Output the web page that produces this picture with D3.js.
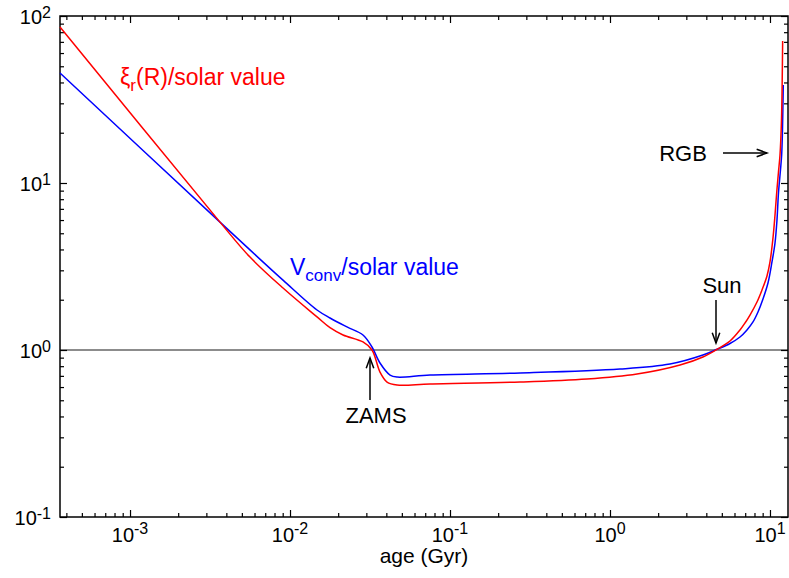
<!DOCTYPE html>
<html><head><meta charset="utf-8">
<script src="https://cdn.jsdelivr.net/npm/d3@7"></script>
<style>body{margin:0;background:#fff}svg{display:block;font-family:"Liberation Sans",Arial,Helvetica,sans-serif}</style>
</head><body><svg id="c" width="789" height="578"></svg>
<script>
// ---- data (age in Gyr) ----
const blueAge = [3.65e-4, 3.65e-3, 9.04e-3, 0.01475, 0.01778, 0.0227, 0.02858, 0.03254, 0.0365, 0.0422, 0.0467, 0.075, 0.274, 1.155, 2.37, 3.81, 4.665, 5.623, 6.494, 7.181, 7.832, 8.414, 9.04, 9.716, 10.29, 10.75, 11.06, 11.30, 11.63, 11.83, 11.97, 12.11];
const blueVal = [45.6, 5.83, 2.62, 1.736, 1.555, 1.374, 1.23, 1.042, 0.836, 0.708, 0.689, 0.708, 0.728, 0.769, 0.824, 0.933, 1.01, 1.094, 1.196, 1.318, 1.472, 1.689, 2.021, 2.519, 3.365, 4.372, 6.003, 8.714, 11.96, 14.71, 20.77, 38.6];
const redAge = [3.65e-4, 3.65e-3, 5.62e-3, 9.04e-3, 0.01475, 0.01778, 0.02145, 0.02858, 0.03254, 0.0365, 0.0404, 0.0467, 0.075, 0.274, 0.718, 1.475, 2.74, 3.81, 4.665, 5.623, 6.494, 6.98, 7.499, 8.295, 8.913, 9.578, 10.0, 10.44, 10.75, 11.01, 11.30, 11.55, 11.80, 12.0];
const redVal = [86, 5.83, 3.6, 2.35, 1.578, 1.36, 1.23, 1.117, 1.0, 0.738, 0.643, 0.617, 0.626, 0.643, 0.67, 0.718, 0.813, 0.908, 1.01, 1.132, 1.318, 1.451, 1.62, 1.939, 2.288, 2.774, 3.365, 4.687, 6.433, 8.714, 11.64, 14.71, 23.84, 70.8];
const xMajor = [1e-3, 1e-2, 1e-1, 1, 10];
const xMajorExp = ["-3", "-2", "-1", "0", "1"];
const yMajor = [0.1, 1, 10, 100];
const yMajorExp = ["-1", "0", "1", "2"];
const xDomain = [3.65e-4, 12.96];
const yDomain = [0.1, 100];

const svg = d3.select("#c");
const L = 60, R = 788, T = 16, B = 517;
const x = d3.scaleLog().domain(xDomain).range([L, R]);
const y = d3.scaleLog().domain(yDomain).range([B, T]);

function minors(dom) {
  const out = [];
  for (let e = Math.floor(Math.log10(dom[0])); e <= Math.ceil(Math.log10(dom[1])); e++)
    for (let m = 2; m <= 9; m++) { const v = m * Math.pow(10, e); if (v >= dom[0] && v <= dom[1]) out.push(v); }
  return out;
}
const xMin = minors(xDomain), yMin = minors(yDomain);

// horizontal reference line at 1
svg.append("line").attr("x1", L).attr("x2", R).attr("y1", y(1)).attr("y2", y(1))
  .attr("stroke", "#666").attr("stroke-width", 1.5);

// axes ticks (inward)
function ax(gen, vals, size, tr) {
  const g = svg.append("g").attr("transform", tr)
    .call(gen.tickValues(vals).tickSizeInner(-size).tickSizeOuter(0).tickFormat(""));
  g.select(".domain").remove();
  g.selectAll("line").attr("stroke", "#000").attr("stroke-width", 1.2);
  return g;
}
ax(d3.axisBottom(x), xMajor, 7, `translate(0,${B})`);
ax(d3.axisBottom(x), xMin, 4, `translate(0,${B})`);
ax(d3.axisTop(x), xMajor, 7, `translate(0,${T})`);
ax(d3.axisTop(x), xMin, 4, `translate(0,${T})`);
ax(d3.axisLeft(y), yMajor, 7, `translate(${L},0)`);
ax(d3.axisLeft(y), yMin, 4, `translate(${L},0)`);
ax(d3.axisRight(y), yMajor, 7, `translate(${R},0)`);
ax(d3.axisRight(y), yMin, 4, `translate(${R},0)`);

// frame
svg.append("rect").attr("x", L).attr("y", T).attr("width", R - L).attr("height", B - T)
  .attr("fill", "none").attr("stroke", "#000").attr("stroke-width", 1.5);

// tick labels
xMajor.forEach((v, i) => {
  const t = svg.append("text").attr("x", x(v)).attr("y", B + 25).attr("text-anchor", "middle")
    .attr("font-size", 20).attr("fill", "#000");
  t.append("tspan").text("10");
  t.append("tspan").attr("dy", -8).attr("font-size", 16).text(xMajorExp[i]);
});
yMajor.forEach((v, i) => {
  const t = svg.append("text").attr("x", 51).attr("y", y(v) + 8).attr("text-anchor", "end")
    .attr("font-size", 20).attr("fill", "#000");
  t.append("tspan").text("10");
  t.append("tspan").attr("dy", -6).attr("font-size", 16).text(yMajorExp[i]);
});
svg.append("text").attr("x", (L + R) / 2).attr("y", 563).attr("text-anchor", "middle")
  .attr("font-size", 21).text("age (Gyr)");

// curves
const line = d3.line().curve(d3.curveCatmullRom.alpha(0.5));
function draw(ages, vals, col) {
  svg.append("path").attr("d", line(ages.map((a, i) => [x(a), y(vals[i])])))
    .attr("fill", "none").attr("stroke", col).attr("stroke-width", 1.5);
}
draw(blueAge, blueVal, "#0000ff");
draw(redAge, redVal, "#ff0000");

// labels
const t1 = svg.append("text").attr("x", 120).attr("y", 85).attr("font-size", 23).attr("fill", "#ff0000");
t1.append("tspan").text("ξ");
t1.append("tspan").attr("dy", 6).attr("font-size", 17).text("r");
t1.append("tspan").attr("dy", -6).text("(R)/solar value");
const t2 = svg.append("text").attr("x", 290).attr("y", 275).attr("font-size", 23).attr("fill", "#0000ff");
t2.append("tspan").text("V");
t2.append("tspan").attr("dy", 6).attr("font-size", 17).text("conv");
t2.append("tspan").attr("dy", -6).text("/solar value");

svg.append("text").attr("x", 376).attr("y", 423).attr("text-anchor", "middle").attr("font-size", 22).text("ZAMS");
svg.append("text").attr("x", 722).attr("y", 293).attr("text-anchor", "middle").attr("font-size", 22).text("Sun");
svg.append("text").attr("x", 683).attr("y", 161).attr("text-anchor", "middle").attr("font-size", 22).text("RGB");

function arrow(x1, y1, x2, y2) {
  const ang = Math.atan2(y2 - y1, x2 - x1), len = 11, w = 0.35;
  const g = svg.append("g").attr("stroke", "#000").attr("stroke-width", 1.5).attr("fill", "none");
  g.append("line").attr("x1", x1).attr("y1", y1).attr("x2", x2).attr("y2", y2);
  g.append("polyline").attr("points", [
    [x2 - len * Math.cos(ang - w), y2 - len * Math.sin(ang - w)],
    [x2, y2],
    [x2 - len * Math.cos(ang + w), y2 - len * Math.sin(ang + w)]].map(p => p.join(",")).join(" "));
}
arrow(370, 400, 370, 358);
arrow(716, 300, 716, 343);
arrow(723, 153, 767, 153);
</script></body></html>
